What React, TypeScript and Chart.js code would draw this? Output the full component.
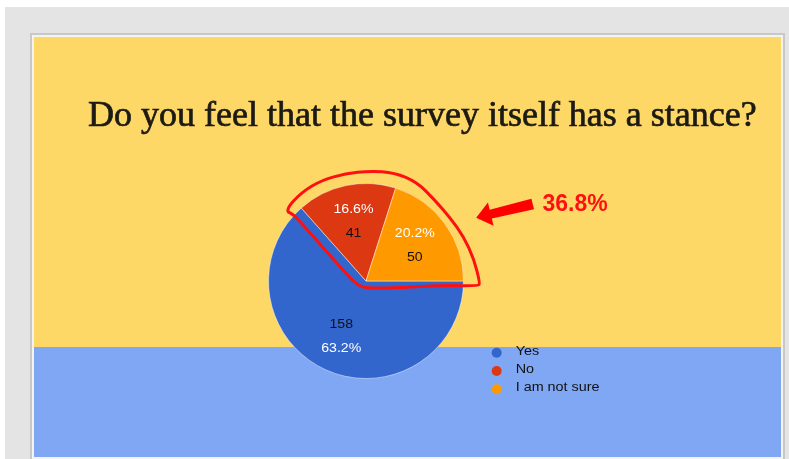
import React, { useEffect, useRef } from "react";
import { Chart, registerables } from "chart.js";

Chart.register(...registerables);

const TITLE = "Do you feel that the survey itself has a stance?";
const categories = ["Yes", "No", "I am not sure"];
const counts = [158, 41, 50];
const percentLabels = ["63.2%", "16.6%", "20.2%"];
const percents = [63.2, 16.6, 20.2];
const sliceColors = ["#3366cc", "#dc3912", "#ff9900"];
const highlighted = [1, 2];

function drawStretched(
  ctx: CanvasRenderingContext2D,
  text: string,
  x: number,
  y: number,
  color: string,
  font: string,
  align: CanvasTextAlign = "center",
  sx = 1.13
) {
  ctx.save();
  ctx.translate(x, y);
  ctx.scale(sx, 1);
  ctx.font = font;
  ctx.fillStyle = color;
  ctx.textAlign = align;
  ctx.textBaseline = "middle";
  ctx.fillText(text, 0, 0);
  ctx.restore();
}

const slidePlugin = {
  id: "slideBackground",
  beforeDraw(chart: any) {
    const ctx: CanvasRenderingContext2D = chart.ctx;
    const W = chart.width;
    const H = chart.height;
    ctx.save();
    ctx.fillStyle = "#ffffff";
    ctx.fillRect(0, 0, W, H);
    ctx.fillStyle = "#e4e4e4";
    ctx.fillRect(5, 7, W - 5, H - 7);
    ctx.fillStyle = "#c8c8c8";
    ctx.fillRect(30, 33, 755, H - 33);
    ctx.fillStyle = "#f5f3ee";
    ctx.fillRect(32, 35, 751, H - 35);
    ctx.fillStyle = "#fed866";
    ctx.fillRect(34, 37, 747, 310);
    ctx.fillStyle = "#80a7f4";
    ctx.fillRect(34, 347, 747, 110);

    ctx.font = '30px "Liberation Serif"';
    const w = ctx.measureText(TITLE).width;
    const size = (30 * 669) / w;
    ctx.font = `${size}px "Liberation Serif"`;
    ctx.fillStyle = "#1c1a14";
    ctx.strokeStyle = "#1c1a14";
    ctx.lineWidth = 0.7;
    ctx.textAlign = "left";
    ctx.textBaseline = "alphabetic";
    ctx.fillText(TITLE, 88, 126);
    ctx.strokeText(TITLE, 88, 126);
    ctx.restore();
  },
};

const labelPlugin = {
  id: "sliceLabels",
  afterDatasetsDraw(chart: any) {
    const ctx: CanvasRenderingContext2D = chart.ctx;
    const arcs = chart.getDatasetMeta(0).data as any[];
    const cx = arcs[0].x;
    const cy = arcs[0].y;
    const R = arcs[0].outerRadius;
    const font = '12.5px "Liberation Sans"';

    arcs.forEach((arc, i) => {
      const mid = (arc.startAngle + arc.endAngle) / 2;
      const bx = cx + Math.cos(mid) * R * 0.62;
      const by = cy + Math.sin(mid) * R * 0.62;
      const dir = Math.sin(mid) >= 0 ? 1 : -1;
      drawStretched(ctx, percentLabels[i], bx, by + dir * 12, "#ffffff", font);
      drawStretched(ctx, String(counts[i]), bx, by - dir * 12, "#111111", font);
    });

    // legend
    const lx = cx + R * 1.34;
    const ly = cy + R * 0.735;
    categories.forEach((c, i) => {
      const y = ly + i * 18.3;
      ctx.save();
      ctx.fillStyle = sliceColors[i];
      ctx.beginPath();
      ctx.arc(lx, y, 5, 0, Math.PI * 2);
      ctx.fill();
      ctx.restore();
      drawStretched(ctx, c, lx + 19, y - 1.5, "#111111", font, "left", 1.15);
    });
  },
  afterDraw(chart: any) {
    const ctx: CanvasRenderingContext2D = chart.ctx;
    const arcs = chart.getDatasetMeta(0).data as any[];
    const cx = arcs[0].x;
    const cy = arcs[0].y;
    const R = arcs[0].outerRadius;
    const first = arcs[highlighted[0]];
    const last = arcs[highlighted[highlighted.length - 1]];

    // hand-drawn loop around the highlighted slices
    const aStart = first.startAngle - 0.13;
    const aEnd = last.endAngle + 0.02;
    const rf = [1.1, 1.125, 1.13, 1.12, 1.13, 1.15, 1.14, 1.09, 1.08, 1.1, 1.13, 1.17];
    const P: [number, number][] = [];
    for (let k = 0; k < rf.length; k++) {
      const a = aStart + ((aEnd - aStart) * k) / (rf.length - 1);
      P.push([cx + Math.cos(a) * R * rf[k], cy + Math.sin(a) * R * rf[k]]);
    }
    P.push([cx + R * 1.15, cy + R * 0.05]);
    P.push([cx + R * 0.8, cy + R * 0.045]);
    P.push([cx + R * 0.35, cy + R * 0.07]);
    P.push([cx + R * 0.02, cy + R * 0.075]);
    P.push([cx - R * 0.1, cy + R * 0.04]);
    const th = first.startAngle;
    const dx = Math.cos(th);
    const dy = Math.sin(th);
    const px = dy;
    const py = -dx;
    [0.3, 0.58, 0.82, 1.0].forEach((d) => {
      P.push([cx + dx * R * d + px * 10, cy + dy * R * d + py * 10]);
    });

    ctx.save();
    ctx.strokeStyle = "#ff1010";
    ctx.lineWidth = 3;
    ctx.lineJoin = "round";
    ctx.lineCap = "round";
    const n = P.length;
    const mid = (i: number): [number, number] => [
      (P[i][0] + P[(i + 1) % n][0]) / 2,
      (P[i][1] + P[(i + 1) % n][1]) / 2,
    ];
    ctx.beginPath();
    const m0 = mid(n - 1);
    ctx.moveTo(m0[0], m0[1]);
    for (let i = 0; i < n; i++) {
      const m = mid(i);
      ctx.quadraticCurveTo(P[i][0], P[i][1], m[0], m[1]);
    }
    ctx.closePath();
    ctx.stroke();

    // arrow
    const tip: [number, number] = [cx + R * 1.13, cy - R * 0.65];
    const tail: [number, number] = [cx + R * 1.71, cy - R * 0.79];
    let ux = tip[0] - tail[0];
    let uy = tip[1] - tail[1];
    const L = Math.hypot(ux, uy);
    ux /= L;
    uy /= L;
    const nx = -uy;
    const ny = ux;
    const headLen = 15;
    const hh = 12;
    const sh = 5.5;
    const bx = tip[0] - ux * headLen;
    const by = tip[1] - uy * headLen;
    ctx.fillStyle = "#ff0000";
    ctx.beginPath();
    ctx.moveTo(tail[0] + nx * sh, tail[1] + ny * sh);
    ctx.lineTo(bx + nx * (sh - 1), by + ny * (sh - 1));
    ctx.lineTo(bx + nx * hh, by + ny * hh);
    ctx.lineTo(tip[0], tip[1]);
    ctx.lineTo(bx - nx * hh, by - ny * hh);
    ctx.lineTo(bx - nx * (sh - 1), by - ny * (sh - 1));
    ctx.lineTo(tail[0] - nx * sh, tail[1] - ny * sh);
    ctx.closePath();
    ctx.fill();

    // total of highlighted slices
    const total = highlighted.reduce((s, i) => s + percents[i], 0);
    ctx.font = 'bold 23px "Liberation Sans"';
    ctx.fillStyle = "#ff1010";
    ctx.textAlign = "left";
    ctx.textBaseline = "middle";
    ctx.fillText(`${total.toFixed(1)}%`, cx + R * 1.81, cy - R * 0.785);
    ctx.restore();
  },
};

export default function App() {
  const ref = useRef<HTMLCanvasElement>(null);
  useEffect(() => {
    const canvas = ref.current;
    if (!canvas) return;
    const chart = new Chart(canvas, {
      type: "pie",
      data: {
        labels: categories,
        datasets: [
          {
            data: counts,
            backgroundColor: sliceColors,
            borderColor: "rgba(255,255,255,0.45)",
            borderWidth: 1,
          },
        ],
      },
      options: {
        responsive: false,
        animation: false,
        rotation: 90,
        events: [],
        layout: { padding: { left: 268, right: 325, top: 183, bottom: 80 } },
        plugins: {
          legend: { display: false },
          tooltip: { enabled: false },
          title: { display: false },
        },
      } as any,
      plugins: [slidePlugin, labelPlugin],
    });
    return () => chart.destroy();
  }, []);
  return (
    <div style={{ position: "absolute", left: 0, top: 0, width: 789, height: 459 }}>
      <canvas ref={ref} width={789} height={459} style={{ display: "block" }} />
    </div>
  );
}
